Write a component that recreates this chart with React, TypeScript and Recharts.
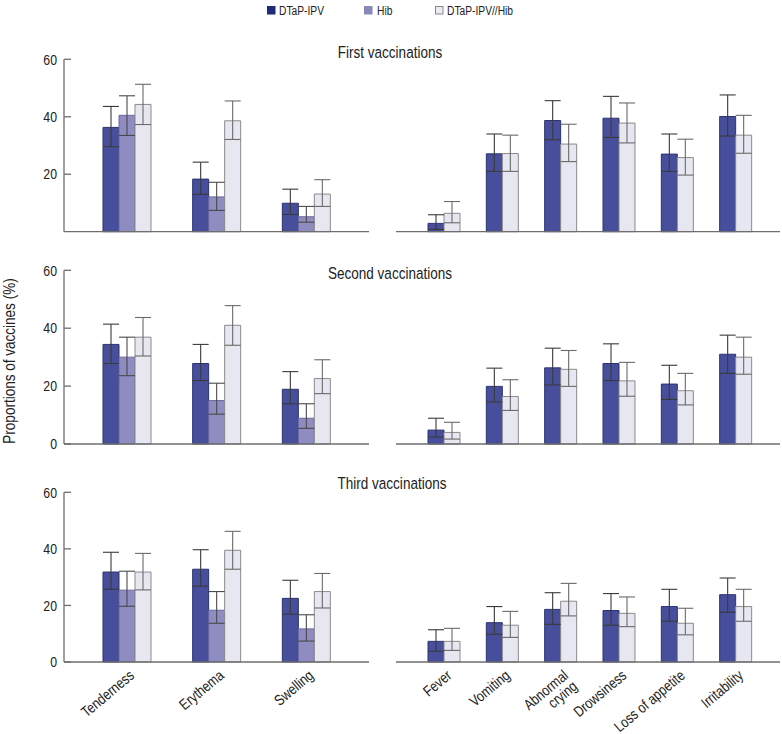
import React from 'react';
import { BarChart, Bar, XAxis, YAxis, ErrorBar, Legend } from 'recharts';

const FONT = '"Liberation Sans", Arial, sans-serif';
const NARROW = 0.82;
const AXIS = '#6e6e6e';
const TEXT = '#222';

// Categories
const localCategories = ['Tenderness', 'Erythema', 'Swelling'];
const systemicCategories = ['Fever', 'Vomiting', 'Abnormal crying', 'Drowsiness', 'Loss of appetite', 'Irritability'];
const yTicks = [0, 20, 40, 60];
const rowTitles = ['First vaccinations', 'Second vaccinations', 'Third vaccinations'];
const seriesNames = ['DTaP-IPV', 'Hib', 'DTaP-IPV//Hib'];
const yAxisTitle = 'Proportions of vaccines (%)';

// First vaccinations – local
const firstLocalDtap = [36.3, 18.3, 9.9];
const firstLocalDtapCI = [[29.6, 43.6], [13.0, 24.2], [6.0, 14.8]];
const firstLocalHib = [40.5, 12.1, 5.2];
const firstLocalHibCI = [[33.5, 47.3], [7.4, 17.2], [3.3, 8.8]];
const firstLocalCombo = [44.3, 38.6, 13.1];
const firstLocalComboCI = [[37.3, 51.3], [32.1, 45.5], [8.8, 18.1]];
// First vaccinations – systemic
const firstSysDtap = [2.9, 27.1, 38.7, 39.5, 27.0, 40.1];
const firstSysDtapCI = [[0.8, 5.9], [21.0, 34.0], [32.0, 45.6], [32.8, 47.1], [21.0, 34.0], [33.3, 47.6]];
const firstSysCombo = [6.4, 27.2, 30.5, 37.8, 25.8, 33.6];
const firstSysComboCI = [[3.1, 10.5], [21.0, 33.6], [24.4, 37.4], [30.9, 44.8], [19.7, 32.2], [27.3, 40.5]];

// Second vaccinations – local
const secondLocalDtap = [34.4, 27.8, 18.9];
const secondLocalDtapCI = [[27.8, 41.4], [21.9, 34.4], [13.9, 25.0]];
const secondLocalHib = [30.0, 15.0, 8.9];
const secondLocalHibCI = [[23.6, 36.9], [10.3, 21.0], [5.4, 13.9]];
const secondLocalCombo = [36.9, 41.0, 22.6];
const secondLocalComboCI = [[30.4, 43.7], [34.1, 47.8], [17.4, 29.1]];
// Second vaccinations – systemic
const secondSysDtap = [4.8, 19.9, 26.3, 27.8, 20.7, 31.0];
const secondSysDtapCI = [[2.4, 8.9], [14.5, 26.2], [20.4, 33.1], [21.9, 34.6], [15.4, 27.2], [24.4, 37.6]];
const secondSysCombo = [4.0, 16.4, 25.8, 21.8, 18.4, 30.0];
const secondSysComboCI = [[1.7, 7.5], [11.6, 22.2], [19.9, 32.3], [16.5, 28.2], [13.5, 24.4], [24.1, 36.9]];

// Third vaccinations – local
const thirdLocalDtap = [31.8, 32.8, 22.5];
const thirdLocalDtapCI = [[25.7, 38.8], [26.8, 39.7], [16.9, 28.9]];
const thirdLocalHib = [25.4, 18.3, 11.7];
const thirdLocalHibCI = [[19.7, 32.1], [13.7, 24.9], [7.4, 16.7]];
const thirdLocalCombo = [31.8, 39.5, 24.9];
const thirdLocalComboCI = [[25.5, 38.4], [32.8, 46.2], [19.1, 31.3]];
// Third vaccinations – systemic
const thirdSysDtap = [7.3, 13.9, 18.6, 18.2, 19.6, 23.8];
const thirdSysDtapCI = [[3.8, 11.4], [9.8, 19.6], [13.3, 24.5], [13.0, 24.2], [14.4, 25.7], [17.6, 29.7]];
const thirdSysCombo = [7.3, 13.0, 21.5, 17.2, 13.7, 19.6];
const thirdSysComboCI = [[4.1, 11.9], [8.7, 17.9], [16.3, 27.8], [12.5, 23.0], [9.6, 19.0], [14.4, 25.7]];

const STYLE: Record<string, { fill: string; stroke: string; err: string; legend: string }> = {
  dtap: { fill: '#474f9c', stroke: '#2c3270', err: '#3a3a3a', legend: '#1f2b78' },
  hib: { fill: '#8e8cc0', stroke: '#6a68a0', err: '#4a4a4a', legend: '#8a88bb' },
  combo: { fill: '#e7e7f1', stroke: '#8a8a8a', err: '#6a6a6a', legend: '#ececf2' },
};

type Series = { key: string; values: number[]; ci: number[][] };

function buildTable(categories: string[], series: Series[]) {
  return categories.map((name, i) => {
    const row: any = { name };
    series.forEach((s) => {
      row[s.key] = s.values[i];
      row[s.key + 'Err'] = [s.values[i] - s.ci[i][0], s.ci[i][1] - s.values[i]];
    });
    return row;
  });
}

const rowsData = [
  {
    local: buildTable(localCategories, [
      { key: 'dtap', values: firstLocalDtap, ci: firstLocalDtapCI },
      { key: 'hib', values: firstLocalHib, ci: firstLocalHibCI },
      { key: 'combo', values: firstLocalCombo, ci: firstLocalComboCI },
    ]),
    sys: buildTable(systemicCategories, [
      { key: 'dtap', values: firstSysDtap, ci: firstSysDtapCI },
      { key: 'combo', values: firstSysCombo, ci: firstSysComboCI },
    ]),
  },
  {
    local: buildTable(localCategories, [
      { key: 'dtap', values: secondLocalDtap, ci: secondLocalDtapCI },
      { key: 'hib', values: secondLocalHib, ci: secondLocalHibCI },
      { key: 'combo', values: secondLocalCombo, ci: secondLocalComboCI },
    ]),
    sys: buildTable(systemicCategories, [
      { key: 'dtap', values: secondSysDtap, ci: secondSysDtapCI },
      { key: 'combo', values: secondSysCombo, ci: secondSysComboCI },
    ]),
  },
  {
    local: buildTable(localCategories, [
      { key: 'dtap', values: thirdLocalDtap, ci: thirdLocalDtapCI },
      { key: 'hib', values: thirdLocalHib, ci: thirdLocalHibCI },
      { key: 'combo', values: thirdLocalCombo, ci: thirdLocalComboCI },
    ]),
    sys: buildTable(systemicCategories, [
      { key: 'dtap', values: thirdSysDtap, ci: thirdSysDtapCI },
      { key: 'combo', values: thirdSysCombo, ci: thirdSysComboCI },
    ]),
  },
];

// layout of each row: wrapper top, plot top, plot bottom, chart height
const ROWS = [
  { top: 0, plotTop: 59.3, plotBottom: 231.7, height: 240 },
  { top: 240, plotTop: 270.3, plotBottom: 444, height: 215 },
  { top: 455, plotTop: 492.3, plotBottom: 662, height: 279 },
];

// Condensed text (horizontal scale emulates a narrow typeface)
const NText = (p: {
  x: number;
  y: number;
  size: number;
  anchor?: 'start' | 'middle' | 'end';
  rotate?: number;
  lines: string[];
  lineGap?: number;
}) => {
  const { x, y, size, anchor = 'start', rotate = 0, lines, lineGap = 1.05 } = p;
  return (
    <g transform={`translate(${x},${y}) rotate(${rotate}) scale(${NARROW},1)`}>
      <text x={0} y={0} textAnchor={anchor} fontFamily={FONT} fontSize={size} fill={TEXT}>
        {lines.map((w, i) => (
          <tspan key={i} x={0} dy={i === 0 ? '0.35em' : `${lineGap}em`}>
            {w}
          </tspan>
        ))}
      </text>
    </g>
  );
};

const YTick = (props: any) => {
  const { x, y, payload } = props;
  return (
    <g>
      <line x1={x + 7} x2={x + 14} y1={y} y2={y} stroke={AXIS} strokeWidth={1.3} />
      <NText x={x} y={y} size={15} anchor="end" lines={[String(payload.value)]} />
    </g>
  );
};

const CatTick = (props: any) => {
  const { x, y, payload } = props;
  const v = String(payload.value);
  const lines = v === 'Abnormal crying' ? ['Abnormal', 'crying'] : [v];
  return <NText x={x + 5} y={y + 11} size={15} anchor="end" rotate={-40} lines={lines} lineGap={0.95} />;
};

const LegendContent = () => {
  const items = [
    { name: seriesNames[0], key: 'dtap', sq: 267, tx: 279 },
    { name: seriesNames[1], key: 'hib', sq: 364, tx: 377 },
    { name: seriesNames[2], key: 'combo', sq: 435, tx: 447 },
  ];
  return (
    <svg width={782} height={20} style={{ display: 'block' }}>
      {items.map((it) => (
        <g key={it.key}>
          <rect
            x={it.sq + 0.5}
            y={6.5}
            width={7.5}
            height={7.5}
            fill={STYLE[it.key].legend}
            stroke={it.key === 'combo' ? '#888' : STYLE[it.key].legend}
            strokeWidth={1}
          />
          <NText x={it.tx} y={10.5} size={12.5} lines={[it.name]} />
        </g>
      ))}
    </svg>
  );
};

function Panel(props: {
  data: any[];
  keys: string[];
  width: number;
  height: number;
  margin: any;
  showY: boolean;
  showX: boolean;
  padding: { left: number; right: number };
  legend?: boolean;
}) {
  const { data, keys, width, height, margin, showY, showX, padding, legend } = props;
  return (
    <BarChart width={width} height={height} data={data} margin={margin} barGap={0} barSize={16}>
      <XAxis
        dataKey="name"
        padding={padding}
        axisLine={{ stroke: AXIS, strokeWidth: 1.3 }}
        tickLine={false}
        tickSize={0}
        tickMargin={0}
        interval={0}
        height={showX ? 72 : 1}
        tick={showX ? (p: any) => <CatTick {...p} /> : false}
      />
      <YAxis
        domain={[0, 60]}
        ticks={yTicks}
        hide={!showY}
        width={64}
        axisLine={{ stroke: AXIS, strokeWidth: 1.3 }}
        tickLine={false}
        tickSize={0}
        tickMargin={7}
        tick={(p: any) => <YTick {...p} />}
      />
      {keys.map((k) => (
        <Bar key={k} dataKey={k} fill={STYLE[k].fill} stroke={STYLE[k].stroke} strokeWidth={1} isAnimationActive={false}>
          <ErrorBar dataKey={k + 'Err'} width={8} stroke={STYLE[k].err} strokeWidth={1.1} direction="y" />
        </Bar>
      ))}
      {legend && (
        <Legend
          layout="horizontal"
          verticalAlign="middle"
          align="center"
          wrapperStyle={{ top: 0, left: 0, width: 782 }}
          content={() => <LegendContent />}
        />
      )}
    </BarChart>
  );
}

export default function App() {
  return (
    <div style={{ position: 'absolute', left: 0, top: 0, width: 782, height: 734, background: '#fff', overflow: 'hidden' }}>
      {ROWS.map((r, i) => {
        const showX = i === 2;
        const xH = showX ? 72 : 1;
        const mTop = r.plotTop - r.top;
        const mBottom = r.height - (r.plotBottom - r.top) - xH;
        return (
          <React.Fragment key={i}>
            <div style={{ position: 'absolute', left: 380, top: r.top }}>
              <Panel
                data={rowsData[i].sys}
                keys={['dtap', 'combo']}
                width={402}
                height={r.height}
                margin={{ top: mTop, right: 2, bottom: mBottom, left: 16 }}
                showY={false}
                showX={showX}
                padding={{ left: 19, right: 15 }}
              />
            </div>
            <div style={{ position: 'absolute', left: 0, top: r.top }}>
              <Panel
                data={rowsData[i].local}
                keys={['dtap', 'hib', 'combo']}
                width={372}
                height={r.height}
                margin={{ top: mTop, right: 3, bottom: mBottom, left: 0 }}
                showY={true}
                showX={showX}
                padding={{ left: 18, right: 18 }}
                legend={i === 0}
              />
            </div>
          </React.Fragment>
        );
      })}
      <svg width={782} height={734} style={{ position: 'absolute', left: 0, top: 0, pointerEvents: 'none' }}>
        <NText x={390} y={52} size={16.5} anchor="middle" lines={[rowTitles[0]]} />
        <NText x={390} y={273} size={16.5} anchor="middle" lines={[rowTitles[1]]} />
        <NText x={392} y={483} size={16.5} anchor="middle" lines={[rowTitles[2]]} />
        <g transform="translate(9,361) rotate(-90)">
          <NText x={0} y={0} size={16.5} anchor="middle" lines={[yAxisTitle]} />
        </g>
      </svg>
    </div>
  );
}
